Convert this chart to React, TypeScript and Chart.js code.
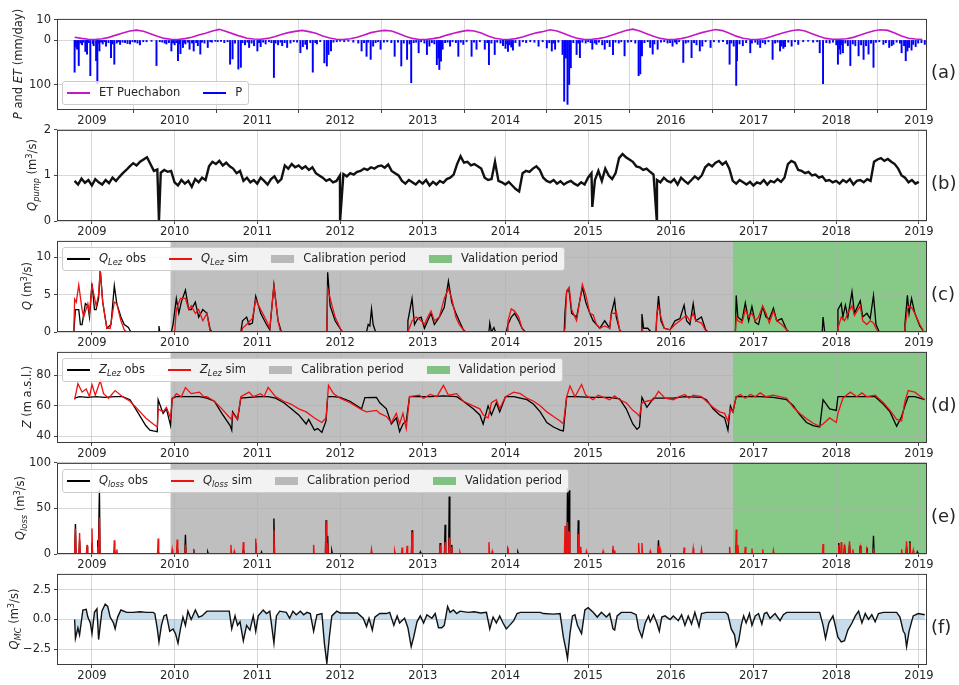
import React, { useEffect, useRef } from 'react';
import { Chart, registerables } from 'chart.js';

Chart.register(...registerables);

const FONT = '"DejaVu Sans", "Liberation Sans", sans-serif';
const TEXT = '#262626';
const GRID = 'rgba(176,176,176,0.5)';
const CAL_COLOR = 'rgba(128,128,128,0.5)';
const VAL_COLOR = 'rgba(0,140,0,0.47)';

// ---------- axes / categories ----------
const X_MIN = 2008.577;
const X_MAX = 2019.097;
const YEAR_TICKS = [2009, 2010, 2011, 2012, 2013, 2014, 2015, 2016, 2017, 2018, 2019];
const CAL_START = 2009.95;
const VAL_START = 2016.75;

// ---------- (a) ET (monthly, from mid Oct 2008) ----------
const ET_START = 2008.79;
const ET_MONTHLY = [
  1.6, 1.0, 0.6,
  0.5, 0.8, 1.5, 2.6, 3.6, 4.6, 5.0, 4.5, 3.3, 2.0, 1.0, 0.6,
  0.5, 0.9, 1.6, 2.7, 3.5, 4.6, 5.4, 4.4, 3.2, 2.1, 1.1, 0.7,
  0.6, 1.0, 1.8, 2.9, 3.8, 4.4, 4.9, 4.3, 3.5, 2.2, 1.2, 0.6,
  0.4, 0.8, 1.6, 2.6, 3.8, 4.5, 4.9, 4.6, 3.4, 2.1, 1.0, 0.5,
  0.5, 0.9, 1.5, 2.6, 3.5, 4.3, 4.9, 4.6, 3.6, 2.2, 1.1, 0.6,
  0.5, 0.9, 1.7, 2.8, 3.7, 4.4, 5.2, 4.6, 3.4, 2.0, 1.0, 0.5,
  0.6, 0.9, 1.6, 2.7, 3.8, 4.8, 5.5, 4.6, 3.3, 2.0, 1.0, 0.5,
  0.5, 0.9, 1.7, 2.8, 3.8, 4.6, 5.3, 4.8, 3.5, 2.1, 1.1, 0.6,
  0.5, 0.8, 1.8, 2.9, 3.9, 4.7, 5.2, 4.6, 3.3, 2.0, 1.0, 0.6,
  0.6, 0.8, 1.5, 2.6, 3.7, 4.7, 5.2, 4.9, 3.6, 2.2, 1.1, 0.7,
  0.5,
];
// ET axis / P axis ranges
const ET_MIN = -33.8, ET_MAX = 10.48;
const P_MIN = -48.9, P_MAX = 157.8;
const A_ET_TICKS = [10, 0];
const A_P_TICKS = [100];

// ---------- (a) P events [decimal year, mm/day] ----------
const P_EVENTS: [number, number][] = [
  [2008.79, 72], [2008.80, 15], [2008.82, 20], [2008.84, 57], [2008.86, 6], [2008.88, 10], [2008.90, 4], [2008.92, 25], [2008.94, 31], [2008.96, 5], [2008.98, 80],
  [2009.01, 7], [2009.02, 12], [2009.05, 46], [2009.065, 98], [2009.08, 6], [2009.09, 24], [2009.11, 4], [2009.13, 8], [2009.15, 3], [2009.17, 13], [2009.20, 5], [2009.23, 39], [2009.25, 8], [2009.27, 54], [2009.30, 6], [2009.32, 3], [2009.34, 9], [2009.37, 4], [2009.40, 5], [2009.43, 7], [2009.46, 8], [2009.49, 3], [2009.52, 4], [2009.55, 6], [2009.58, 10], [2009.62, 3], [2009.66, 3], [2009.72, 2], [2009.78, 57], [2009.82, 3], [2009.85, 4], [2009.88, 6], [2009.90, 8], [2009.93, 5], [2009.96, 24], [2009.98, 6],
  [2010.00, 10], [2010.02, 5], [2010.04, 46], [2010.06, 8], [2010.07, 30], [2010.10, 16], [2010.12, 5], [2010.13, 8], [2010.16, 4], [2010.18, 20], [2010.21, 6], [2010.23, 24], [2010.26, 5], [2010.28, 12], [2010.31, 31], [2010.33, 4], [2010.36, 6], [2010.40, 16], [2010.43, 3], [2010.45, 4], [2010.49, 2], [2010.52, 3], [2010.56, 2], [2010.60, 5], [2010.64, 3], [2010.67, 54], [2010.70, 42], [2010.73, 6], [2010.77, 65], [2010.80, 61], [2010.82, 5], [2010.85, 10], [2010.88, 4], [2010.90, 16], [2010.93, 6], [2010.96, 12],
  [2011.00, 24], [2011.02, 5], [2011.04, 14], [2011.07, 4], [2011.10, 8], [2011.14, 3], [2011.17, 5], [2011.20, 84], [2011.22, 6], [2011.25, 10], [2011.28, 4], [2011.30, 12], [2011.33, 5], [2011.36, 16], [2011.40, 6], [2011.44, 3], [2011.48, 4], [2011.52, 28], [2011.55, 14], [2011.58, 9], [2011.60, 20], [2011.64, 5], [2011.67, 72], [2011.70, 5], [2011.72, 8], [2011.76, 3], [2011.81, 51], [2011.84, 58], [2011.86, 32], [2011.89, 24], [2011.92, 4], [2011.96, 3],
  [2012.00, 2], [2012.05, 3], [2012.10, 2], [2012.16, 4], [2012.22, 6], [2012.26, 24], [2012.29, 5], [2012.32, 36], [2012.34, 4], [2012.37, 43], [2012.40, 13], [2012.43, 5], [2012.46, 3], [2012.49, 20], [2012.53, 4], [2012.57, 3], [2012.62, 5], [2012.66, 36], [2012.70, 4], [2012.74, 58], [2012.77, 6], [2012.81, 43], [2012.84, 8], [2012.86, 96], [2012.89, 5], [2012.92, 4], [2012.95, 28], [2012.98, 3],
  [2013.02, 6], [2013.05, 32], [2013.08, 13], [2013.11, 5], [2013.14, 8], [2013.17, 55], [2013.19, 40], [2013.20, 66], [2013.22, 47], [2013.24, 20], [2013.27, 5], [2013.30, 4], [2013.33, 13], [2013.36, 3], [2013.40, 5], [2013.43, 36], [2013.46, 4], [2013.49, 9], [2013.53, 3], [2013.59, 36], [2013.62, 4], [2013.65, 20], [2013.69, 3], [2013.75, 20], [2013.78, 5], [2013.80, 55], [2013.83, 6], [2013.87, 32], [2013.90, 4], [2013.94, 6], [2013.97, 12],
  [2014.00, 18], [2014.02, 8], [2014.03, 25], [2014.05, 10], [2014.07, 15], [2014.09, 22], [2014.12, 5], [2014.17, 13], [2014.21, 3], [2014.25, 5], [2014.30, 3], [2014.35, 4], [2014.40, 13], [2014.45, 3], [2014.50, 17], [2014.53, 5], [2014.56, 24], [2014.58, 6], [2014.60, 20], [2014.64, 4], [2014.69, 32], [2014.71, 138], [2014.73, 40], [2014.75, 145], [2014.77, 100], [2014.79, 62], [2014.82, 5], [2014.86, 32], [2014.88, 6], [2014.90, 39], [2014.93, 4], [2014.97, 6],
  [2015.00, 3], [2015.03, 5], [2015.05, 20], [2015.08, 6], [2015.10, 9], [2015.13, 4], [2015.17, 10], [2015.20, 20], [2015.23, 5], [2015.26, 14], [2015.30, 32], [2015.33, 4], [2015.37, 6], [2015.40, 3], [2015.44, 35], [2015.48, 4], [2015.52, 3], [2015.57, 6], [2015.61, 80], [2015.63, 76], [2015.65, 35], [2015.68, 5], [2015.72, 3], [2015.75, 16], [2015.78, 31], [2015.80, 8], [2015.84, 20], [2015.88, 4], [2015.92, 3], [2015.96, 6],
  [2015.99, 5], [2016.02, 13], [2016.05, 4], [2016.07, 8], [2016.10, 3], [2016.15, 50], [2016.18, 6], [2016.21, 4], [2016.25, 39], [2016.28, 5], [2016.31, 10], [2016.35, 24], [2016.38, 13], [2016.42, 3], [2016.48, 16], [2016.52, 3], [2016.58, 4], [2016.63, 3], [2016.68, 8], [2016.71, 54], [2016.73, 6], [2016.76, 13], [2016.79, 102], [2016.80, 46], [2016.83, 8], [2016.87, 12], [2016.91, 5], [2016.96, 28], [2016.98, 6],
  [2017.02, 4], [2017.05, 9], [2017.08, 16], [2017.11, 5], [2017.14, 8], [2017.18, 3], [2017.23, 43], [2017.26, 6], [2017.29, 4], [2017.32, 24], [2017.34, 13], [2017.36, 18], [2017.38, 14], [2017.42, 4], [2017.46, 13], [2017.50, 3], [2017.54, 9], [2017.60, 3], [2017.66, 2], [2017.72, 4], [2017.77, 3], [2017.80, 28], [2017.84, 98], [2017.88, 5], [2017.92, 6], [2017.96, 4],
  [2018.00, 10], [2018.02, 54], [2018.04, 20], [2018.05, 31], [2018.07, 10], [2018.08, 28], [2018.11, 6], [2018.14, 12], [2018.17, 57], [2018.20, 8], [2018.23, 12], [2018.27, 35], [2018.30, 10], [2018.33, 43], [2018.36, 12], [2018.39, 31], [2018.42, 6], [2018.45, 61], [2018.48, 4], [2018.52, 3], [2018.57, 9], [2018.60, 5], [2018.64, 16], [2018.67, 12], [2018.69, 9], [2018.73, 4], [2018.77, 6], [2018.79, 28], [2018.82, 12], [2018.84, 46], [2018.86, 24], [2018.88, 16], [2018.91, 22], [2018.93, 9], [2018.96, 14], [2018.99, 6], [2019.03, 5], [2019.07, 9],
];

// ---------- (b) Q pump (half-monthly from 2008.79) ----------
const QPUMP_START = 2008.79;
const QPUMP_STEP = 1 / 24;
const QPUMP = [
  0.88, 0.8, 0.93, 0.84, 0.9,
  0.78, 0.92, 0.85, 0.8, 0.9, 0.83, 0.95, 0.88, 0.97, 1.05, 1.12, 1.2, 1.27, 1.22, 1.3, 1.35, 1.4, 1.25, 1.1, 1.13, 1.06, 1.12, 1.08, 1.1,
  0.85, 0.78, 0.9, 0.82, 0.88, 0.75, 0.92, 0.85, 0.95, 0.9, 1.2, 1.3, 1.25, 1.32, 1.22, 1.28, 1.2, 1.15, 1.05, 1.1, 0.88, 0.95, 0.85, 0.9,
  0.82, 0.95, 0.88, 0.8, 0.92, 0.98, 0.85, 0.92, 1.22, 1.15, 1.25, 1.18, 1.22, 1.15, 1.2, 1.12, 1.18, 1.05, 1.0, 0.95, 0.88, 0.92, 0.85, 0.88,
  1.0, 1.03, 0.98, 1.05, 1.02, 1.08, 1.1, 1.15, 1.12, 1.18, 1.15, 1.2, 1.22, 1.17, 1.24, 1.1, 1.05, 1.0, 0.88, 0.82, 0.9, 0.85, 0.8, 0.88,
  0.82, 0.9, 0.78, 0.86, 0.8, 0.88, 0.84, 0.92, 0.95, 1.02, 1.25, 1.42, 1.28, 1.3, 1.22, 1.25, 1.2, 1.15, 0.95, 0.9, 0.92, 1.3, 0.88, 0.85,
  0.8, 0.86, 0.78, 0.7, 0.65, 1.05, 1.1, 1.08, 1.15, 1.2, 1.12, 0.95, 0.88, 0.85, 0.9, 0.82, 0.87, 0.8, 0.85, 0.88, 0.82, 0.78, 0.85, 0.8,
  0.95, 1.05, 0.9, 1.1, 0.88, 1.15, 1.0, 0.92, 1.05, 1.38, 1.47, 1.4, 1.35, 1.3, 1.2, 1.18, 1.12, 1.15, 1.08, 1.02, 0.9, 0.85, 0.95, 0.88,
  0.85, 0.92, 0.8, 0.95, 0.88, 0.82, 0.9, 0.98, 0.92, 1.0, 1.18, 1.25, 1.2, 1.28, 1.32, 1.24, 1.3, 1.15, 0.88, 0.82, 0.9, 0.85, 0.8, 0.86,
  0.78, 0.85, 0.82, 0.9, 0.8, 0.88, 0.85, 0.92, 0.86, 0.95, 1.25, 1.32, 1.28, 1.12, 1.1, 1.05, 1.08, 1.0, 1.02, 0.95, 0.98, 0.88, 0.9, 0.85,
  0.88, 0.82, 0.9, 0.85, 0.92, 0.8, 0.88, 0.9, 0.85, 0.92, 0.88, 1.3, 1.35, 1.38, 1.32, 1.36, 1.3, 1.25, 1.15, 1.0, 0.95, 0.85, 0.9, 0.82,
  0.86,
];
const QPUMP_DROPS: [number, number][] = [[2009.81, 0], [2012.0, 0], [2015.05, 0.31], [2015.83, 0]];

// ---------- (c) Q Lez ----------
const QLEZ_OBS: [number, number][] = [
  [2008.78, 0], [2008.80, 3], [2008.84, 3], [2008.86, 1], [2008.88, 1], [2008.92, 3.8], [2008.95, 3.5], [2008.97, 2], [2009.0, 6.5], [2009.03, 3], [2009.05, 3], [2009.08, 4.5], [2009.10, 8.3], [2009.13, 4], [2009.18, 0.5], [2009.23, 1], [2009.27, 6.2], [2009.30, 3.8], [2009.35, 2], [2009.39, 1], [2009.44, 0.6], [2009.47, 0],
  [2009.80, 0], [2009.81, 0.8], [2009.82, 0], [2009.96, 0], [2009.98, 1], [2010.02, 4.5], [2010.05, 2.5], [2010.08, 4], [2010.13, 5.6], [2010.17, 3], [2010.20, 3], [2010.25, 4], [2010.29, 2], [2010.34, 3], [2010.39, 2.5], [2010.43, 0.3], [2010.45, 0],
  [2010.80, 0], [2010.82, 1.5], [2010.87, 2], [2010.90, 1], [2010.94, 1.2], [2010.98, 4.8], [2011.04, 2.5], [2011.11, 1], [2011.15, 0.3], [2011.20, 6.3], [2011.25, 1.5], [2011.29, 0],
  [2011.84, 0], [2011.85, 8], [2011.88, 3.5], [2011.94, 1.5], [2012.01, 0.3], [2012.03, 0], [2012.32, 0], [2012.34, 1], [2012.36, 0.8], [2012.38, 3.1], [2012.40, 1], [2012.43, 0],
  [2012.81, 0], [2012.82, 1.5], [2012.87, 4.5], [2012.90, 1], [2012.94, 1.8], [2012.98, 2], [2013.02, 0.5], [2013.06, 1.5], [2013.10, 2.5], [2013.14, 1], [2013.20, 2], [2013.26, 3.3], [2013.31, 6.8], [2013.35, 4], [2013.40, 2.5], [2013.44, 1.5], [2013.49, 0.3], [2013.52, 0],
  [2013.80, 0], [2013.81, 1.2], [2013.83, 0], [2013.86, 0.6], [2013.88, 0], [2014.01, 0], [2014.03, 1], [2014.07, 2], [2014.11, 2.5], [2014.16, 1.5], [2014.20, 0.5], [2014.24, 0],
  [2014.71, 0], [2014.72, 2.7], [2014.74, 5.5], [2014.77, 5.5], [2014.80, 2.5], [2014.86, 2], [2014.93, 6], [2014.97, 4], [2015.02, 2.5], [2015.06, 1.5], [2015.10, 1], [2015.14, 0.5], [2015.20, 1.5], [2015.26, 0.5], [2015.28, 2.5], [2015.32, 4.3], [2015.34, 2], [2015.38, 0.3], [2015.40, 0],
  [2015.64, 0], [2015.65, 2.4], [2015.67, 0.5], [2015.72, 0.5], [2015.76, 0], [2015.82, 0], [2015.83, 2], [2015.85, 4.8], [2015.88, 1.5], [2015.92, 0.5], [2015.99, 0.3], [2016.05, 1.5], [2016.11, 1.8], [2016.16, 3.6], [2016.19, 1.5], [2016.23, 1], [2016.27, 3.8], [2016.30, 1.5], [2016.37, 2], [2016.42, 0.3], [2016.45, 0],
  [2016.78, 0], [2016.79, 4.9], [2016.81, 2], [2016.86, 1.5], [2016.90, 3.9], [2016.94, 1.5], [2016.98, 3.4], [2017.02, 1.3], [2017.06, 1], [2017.11, 3.4], [2017.15, 2], [2017.19, 1.7], [2017.24, 3.2], [2017.28, 1.5], [2017.34, 1.8], [2017.40, 0.3], [2017.43, 0],
  [2017.83, 0], [2017.84, 2], [2017.86, 0], [2018.01, 0], [2018.02, 3], [2018.06, 3.8], [2018.08, 2], [2018.11, 3.6], [2018.14, 2], [2018.19, 5.4], [2018.22, 2.5], [2018.29, 4.2], [2018.32, 2], [2018.37, 2.5], [2018.41, 1.8], [2018.45, 4.9], [2018.48, 1], [2018.52, 0],
  [2018.82, 0], [2018.83, 1], [2018.86, 4.9], [2018.88, 2.5], [2018.91, 4.5], [2018.95, 2.5], [2019.01, 0.8], [2019.05, 0.2],
];
const QLEZ_SIM: [number, number][] = [
  [2008.78, 0], [2008.79, 4.4], [2008.81, 4], [2008.84, 6.3], [2008.88, 3], [2008.90, 2], [2008.95, 3.8], [2008.97, 2.5], [2009.0, 6.3], [2009.05, 3.5], [2009.08, 5], [2009.10, 8.3], [2009.13, 4], [2009.18, 0.5], [2009.22, 0.5], [2009.27, 4], [2009.30, 3.8], [2009.35, 1.5], [2009.39, 0.3], [2009.42, 0],
  [2010.0, 0], [2010.02, 3], [2010.07, 4.5], [2010.13, 4.5], [2010.17, 3], [2010.20, 3.5], [2010.25, 2.5], [2010.29, 3], [2010.34, 1.5], [2010.39, 2.5], [2010.43, 0],
  [2010.81, 0], [2010.82, 0.5], [2010.87, 1], [2010.94, 1.8], [2010.98, 4.3], [2011.04, 3], [2011.11, 1.5], [2011.15, 0.5], [2011.20, 6.2], [2011.25, 1.5], [2011.28, 0],
  [2011.84, 0], [2011.85, 5.8], [2011.88, 4.5], [2011.94, 2], [2012.01, 0.3], [2012.03, 0],
  [2012.82, 0], [2012.83, 0.3], [2012.87, 1.5], [2012.92, 2], [2012.98, 1.5], [2013.02, 1], [2013.06, 2], [2013.10, 2.8], [2013.14, 1.5], [2013.20, 2], [2013.26, 4.5], [2013.31, 5.8], [2013.35, 4.5], [2013.40, 2], [2013.44, 1], [2013.49, 0.3], [2013.51, 0],
  [2014.02, 0], [2014.03, 1.5], [2014.07, 3.1], [2014.11, 2.8], [2014.16, 2], [2014.20, 0.5], [2014.23, 0],
  [2014.71, 0], [2014.72, 0.5], [2014.74, 5.5], [2014.77, 6], [2014.80, 3], [2014.86, 1.5], [2014.93, 6.4], [2014.97, 5], [2015.02, 2.5], [2015.06, 2.3], [2015.10, 1], [2015.14, 0.5], [2015.20, 0.8], [2015.26, 0.5], [2015.28, 2.5], [2015.32, 2.5], [2015.34, 2.8], [2015.38, 0.3], [2015.40, 0],
  [2015.64, 0], [2015.65, 0.3], [2015.67, 0], [2015.82, 0], [2015.83, 2.5], [2015.85, 3.4], [2015.88, 2], [2015.92, 0.5], [2015.99, 0.3], [2016.05, 1], [2016.11, 1.5], [2016.16, 2], [2016.19, 2.2], [2016.23, 1.5], [2016.27, 2.5], [2016.30, 1.5], [2016.37, 1.2], [2016.42, 0.2], [2016.45, 0],
  [2016.78, 0], [2016.79, 2], [2016.81, 1.5], [2016.86, 1.2], [2016.90, 3], [2016.94, 2], [2016.98, 2.5], [2017.02, 1.5], [2017.06, 2], [2017.11, 3.5], [2017.15, 2.5], [2017.19, 1.2], [2017.24, 2.8], [2017.28, 1.5], [2017.34, 1], [2017.40, 0.3], [2017.42, 0],
  [2018.01, 0], [2018.02, 0.5], [2018.06, 2], [2018.10, 1.5], [2018.14, 2.5], [2018.19, 3.5], [2018.22, 2.2], [2018.29, 3.5], [2018.32, 1.5], [2018.37, 1], [2018.41, 1.5], [2018.45, 1.2], [2018.48, 0.5], [2018.51, 0],
  [2018.82, 0], [2018.83, 0.5], [2018.86, 3], [2018.88, 3.5], [2018.91, 3.3], [2018.95, 2.5], [2019.01, 1], [2019.05, 0.2],
];

// ---------- (d) Z Lez ----------
const ZLEZ_OBS: [number, number][] = [
  [2008.79, 65], [2008.85, 66], [2008.95, 65.5], [2009.05, 66], [2009.15, 65.5], [2009.28, 66], [2009.37, 66], [2009.46, 64], [2009.55, 56], [2009.65, 47], [2009.70, 44], [2009.74, 43.5], [2009.79, 43], [2009.80, 64], [2009.86, 55], [2009.90, 58], [2009.95, 47], [2009.97, 65],
  [2010.02, 66], [2010.13, 66], [2010.30, 66], [2010.39, 65], [2010.48, 63], [2010.57, 55], [2010.67, 47], [2010.69, 44], [2010.70, 56], [2010.76, 51], [2010.80, 65], [2010.90, 65.5],
  [2011.04, 66], [2011.13, 66], [2011.22, 65], [2011.32, 62], [2011.41, 58], [2011.50, 54], [2011.59, 48], [2011.62, 51], [2011.69, 44], [2011.73, 45], [2011.78, 42.5], [2011.83, 50], [2011.85, 66], [2011.92, 66],
  [2012.0, 65.5], [2012.12, 63], [2012.26, 58], [2012.30, 65.4], [2012.44, 65.5], [2012.48, 62], [2012.56, 58], [2012.62, 48], [2012.68, 52], [2012.72, 43], [2012.76, 48], [2012.80, 50], [2012.84, 66], [2012.96, 66],
  [2013.09, 66], [2013.25, 66.5], [2013.41, 66], [2013.49, 63], [2013.61, 58], [2013.69, 54], [2013.73, 48], [2013.79, 60], [2013.83, 54], [2013.89, 62], [2013.93, 56],
  [2014.0, 66], [2014.10, 66], [2014.26, 64], [2014.34, 61], [2014.42, 56], [2014.50, 49], [2014.58, 46], [2014.66, 44], [2014.70, 43.5], [2014.74, 66], [2014.84, 66],
  [2015.06, 65.5], [2015.26, 65.5], [2015.38, 64.5], [2015.46, 58], [2015.54, 48], [2015.59, 44.5], [2015.62, 46], [2015.65, 65.5], [2015.71, 59], [2015.79, 65], [2015.93, 65],
  [2016.03, 65], [2016.17, 66], [2016.37, 65.5], [2016.43, 64], [2016.51, 58], [2016.59, 54], [2016.65, 52], [2016.69, 44], [2016.72, 60], [2016.75, 56], [2016.79, 66], [2016.96, 66],
  [2017.08, 66], [2017.24, 65.5], [2017.40, 64], [2017.48, 60], [2017.56, 54], [2017.64, 49], [2017.72, 47], [2017.80, 46], [2017.84, 64], [2017.92, 58],
  [2018.0, 57], [2018.02, 66], [2018.17, 66], [2018.37, 66], [2018.47, 66], [2018.57, 61], [2018.65, 56], [2018.73, 46.5], [2018.79, 53], [2018.83, 60], [2018.87, 66], [2018.95, 66], [2019.07, 64],
];
const ZLEZ_SIM: [number, number][] = [
  [2008.79, 64], [2008.83, 74.5], [2008.88, 69], [2008.93, 71], [2008.97, 66], [2009.0, 74], [2009.04, 67], [2009.10, 76.5], [2009.14, 68], [2009.20, 65], [2009.28, 70], [2009.37, 66], [2009.46, 63], [2009.55, 58], [2009.65, 52], [2009.74, 48], [2009.79, 46], [2009.80, 58], [2009.86, 56], [2009.90, 59], [2009.95, 52], [2009.97, 64],
  [2010.02, 68], [2010.08, 66], [2010.13, 72], [2010.20, 68], [2010.30, 69], [2010.35, 66], [2010.39, 66], [2010.48, 63], [2010.57, 58], [2010.67, 52], [2010.69, 51], [2010.70, 55], [2010.76, 51], [2010.80, 66], [2010.90, 69], [2010.95, 66],
  [2011.04, 68], [2011.08, 66], [2011.13, 72], [2011.22, 66], [2011.32, 63], [2011.41, 61], [2011.50, 58], [2011.59, 56], [2011.69, 52], [2011.78, 49], [2011.83, 52], [2011.86, 73.5], [2011.92, 68],
  [2012.0, 65], [2012.12, 62], [2012.26, 57.5], [2012.32, 56], [2012.44, 57], [2012.48, 55], [2012.56, 53], [2012.62, 49], [2012.68, 55], [2012.72, 48], [2012.76, 55], [2012.80, 45], [2012.84, 66], [2012.96, 67],
  [2013.01, 65], [2013.09, 67.5], [2013.17, 66], [2013.25, 73.5], [2013.31, 67], [2013.41, 68], [2013.49, 63], [2013.61, 60], [2013.69, 58], [2013.73, 54], [2013.79, 52], [2013.83, 62], [2013.89, 64], [2013.93, 58],
  [2014.0, 66], [2014.10, 69], [2014.18, 68], [2014.26, 65], [2014.34, 63], [2014.42, 60], [2014.50, 56], [2014.58, 53], [2014.66, 50], [2014.70, 48], [2014.74, 66], [2014.78, 73], [2014.84, 66], [2014.92, 74], [2014.97, 67],
  [2015.06, 64], [2015.12, 67], [2015.26, 64], [2015.32, 66.5], [2015.38, 64], [2015.46, 62], [2015.54, 57], [2015.59, 55], [2015.62, 53], [2015.65, 62], [2015.71, 63], [2015.79, 64], [2015.85, 69.5], [2015.93, 65],
  [2016.03, 64], [2016.10, 66], [2016.17, 67.5], [2016.22, 65], [2016.27, 67], [2016.37, 66], [2016.43, 63], [2016.51, 59], [2016.59, 56], [2016.65, 55], [2016.69, 50], [2016.72, 58], [2016.75, 56], [2016.79, 66], [2016.84, 67.5], [2016.90, 65], [2016.96, 67.5],
  [2017.02, 66], [2017.08, 68.5], [2017.15, 66], [2017.24, 67], [2017.40, 65], [2017.48, 59], [2017.56, 55], [2017.64, 51.5], [2017.72, 48.5], [2017.80, 46.5], [2017.84, 48], [2017.92, 52],
  [2018.0, 49], [2018.02, 55], [2018.08, 65], [2018.17, 69], [2018.25, 66], [2018.31, 68.5], [2018.37, 66], [2018.47, 67], [2018.57, 62], [2018.65, 57], [2018.73, 51], [2018.79, 50], [2018.83, 63], [2018.87, 70], [2018.95, 69], [2019.07, 64],
];

// ---------- (e) Q loss events [decimal year, m3/s] ----------
const QLOSS_START = 2008.79;
const QLOSS_END = 2019.03;
const QLOSS_OBS: [number, number][] = [
  [2008.80, 33], [2008.85, 15], [2008.94, 8], [2009.0, 12], [2009.07, 15], [2009.09, 70], [2009.27, 3], [2009.80, 2], [2010.03, 5], [2010.13, 21], [2010.23, 5], [2010.40, 2], [2010.83, 4], [2010.98, 12], [2011.05, 2], [2011.20, 39], [2011.83, 37], [2011.85, 20], [2011.90, 3], [2012.38, 1], [2012.87, 26], [2012.97, 2], [2013.21, 12], [2013.27, 32], [2013.32, 63], [2013.35, 10], [2014.03, 3], [2014.15, 2], [2014.75, 72], [2014.77, 70], [2014.88, 37], [2015.30, 2], [2015.85, 15], [2016.79, 10], [2018.03, 12], [2018.10, 10], [2018.16, 10], [2018.29, 9], [2018.37, 7], [2018.45, 20], [2018.85, 8], [2018.89, 14], [2018.98, 2],
];
const QLOSS_SIM: [number, number][] = [
  [2008.80, 28], [2008.85, 23], [2008.94, 10], [2009.0, 28], [2009.07, 8], [2009.09, 40], [2009.27, 15], [2009.30, 5], [2009.80, 17], [2009.97, 5], [2010.03, 16], [2010.13, 10], [2010.23, 2], [2010.68, 10], [2010.72, 3], [2010.83, 13], [2010.98, 17], [2011.20, 26], [2011.68, 10], [2011.83, 36], [2011.85, 12], [2012.38, 5], [2012.66, 3], [2012.75, 7], [2012.81, 9], [2012.87, 24], [2013.21, 10], [2013.27, 13], [2013.32, 18], [2013.35, 8], [2013.45, 2], [2013.80, 13], [2013.84, 3], [2014.03, 7], [2014.72, 31], [2014.75, 35], [2014.77, 25], [2014.88, 22], [2014.91, 8], [2014.98, 3], [2015.18, 3], [2015.30, 9], [2015.32, 4], [2015.61, 12], [2015.65, 12], [2015.75, 3], [2015.85, 9], [2015.87, 5], [2016.16, 7], [2016.27, 6], [2016.37, 5], [2016.71, 8], [2016.79, 27], [2016.81, 10], [2016.90, 8], [2016.98, 6], [2017.11, 5], [2017.24, 4], [2017.84, 11], [2018.03, 10], [2018.06, 13], [2018.10, 6], [2018.16, 14], [2018.20, 5], [2018.29, 6], [2018.37, 3], [2018.45, 4], [2018.79, 5], [2018.85, 14], [2018.89, 12], [2018.93, 4],
];

// ---------- (f) Q MC ----------
const QMC: [number, number][] = [
  [2008.79, 0], [2008.80, -1.6], [2008.83, -0.7], [2008.85, -1.3], [2008.89, 0.8], [2008.93, 0.85], [2008.95, 0.2], [2008.98, -0.3], [2009.0, -1.2], [2009.03, 0.6], [2009.06, 0.9], [2009.08, -1.7], [2009.12, 0.7], [2009.16, 1.3], [2009.19, 1.1], [2009.22, 0.2], [2009.26, -0.3], [2009.28, -0.8], [2009.31, 0.2], [2009.35, 0.8], [2009.42, 0.6], [2009.50, 0.6], [2009.58, 0.65], [2009.66, 0.6], [2009.74, 0.6], [2009.76, 0.5], [2009.79, -0.8], [2009.81, -1.9], [2009.84, -0.5], [2009.87, 0.3], [2009.90, 0.4], [2009.94, -1.0], [2009.98, -0.8],
  [2010.01, -1.2], [2010.04, -2.0], [2010.07, -0.8], [2010.10, 0.2], [2010.13, -0.5], [2010.16, 0.7], [2010.20, 0], [2010.25, 0.8], [2010.29, 0.2], [2010.33, 0.3], [2010.39, 0.7], [2010.50, 0.7], [2010.66, 0.7], [2010.69, -0.8], [2010.73, 0.3], [2010.76, -0.5], [2010.79, -0.2], [2010.83, -1.8], [2010.87, -0.5], [2010.91, -0.9], [2010.95, 0.3], [2010.98, -1.0],
  [2011.01, 0.3], [2011.07, 0.8], [2011.11, 0.5], [2011.15, 0.7], [2011.20, -2.0], [2011.23, 0.3], [2011.27, 0.7], [2011.35, 0.6], [2011.39, 0.1], [2011.43, 0.7], [2011.47, 0.4], [2011.52, 0.7], [2011.56, 0.4], [2011.60, 0.6], [2011.64, 0.5], [2011.68, -1.0], [2011.72, 0.4], [2011.78, 0.5], [2011.81, -2.0], [2011.84, -3.7], [2011.87, -1.5], [2011.90, 0.3], [2011.96, 0.7],
  [2012.0, 0.55], [2012.21, 0.55], [2012.28, 0.1], [2012.32, -0.6], [2012.35, 0.1], [2012.39, -0.9], [2012.42, 0.2], [2012.48, 0.5], [2012.56, 0.5], [2012.60, 0.6], [2012.65, -0.5], [2012.69, 0.3], [2012.72, -0.3], [2012.78, 0.1], [2012.82, -0.7], [2012.86, -2.3], [2012.89, -1.5], [2012.93, -0.2], [2012.97, 0.3],
  [2013.01, -0.3], [2013.05, 0.4], [2013.11, 0.1], [2013.15, 0.5], [2013.19, -0.7], [2013.23, -0.7], [2013.26, -0.5], [2013.30, 1.1], [2013.33, 0.6], [2013.37, 0.8], [2013.41, 0.5], [2013.45, 0.7], [2013.55, 0.6], [2013.62, 0.65], [2013.70, 0.55], [2013.77, 0.6], [2013.81, -0.8], [2013.85, 0.2], [2013.89, -0.3], [2013.93, 0.3], [2013.97, -0.3],
  [2014.01, -0.8], [2014.05, -0.5], [2014.10, -0.1], [2014.14, 0.5], [2014.18, 0.6], [2014.42, 0.6], [2014.46, 0.5], [2014.58, 0.45], [2014.66, 0.5], [2014.70, -1.5], [2014.73, -2.5], [2014.75, -3.3], [2014.78, -1.2], [2014.81, 0.3], [2014.84, 0.4], [2014.87, -0.5], [2014.92, -1.2], [2014.96, 0.8],
  [2015.0, 1.0], [2015.06, 0.6], [2015.11, 0.2], [2015.16, 0.6], [2015.22, 0.2], [2015.26, 0.5], [2015.30, -0.8], [2015.32, -0.9], [2015.35, 0.3], [2015.40, 0.6], [2015.52, 0.6], [2015.58, 0.4], [2015.61, -0.8], [2015.65, -1.5], [2015.69, -0.3], [2015.73, 0.3], [2015.75, -0.2], [2015.79, 0.4], [2015.83, -0.3], [2015.86, -1.0], [2015.89, 0.2], [2015.93, 0.3], [2015.99, 0.0],
  [2016.03, 0.3], [2016.09, -0.1], [2016.13, 0.4], [2016.17, -0.5], [2016.21, 0.3], [2016.25, -0.4], [2016.29, 0.6], [2016.34, -0.6], [2016.37, 0.5], [2016.43, 0.6], [2016.66, 0.6], [2016.69, 0.4], [2016.73, -0.8], [2016.77, -1.3], [2016.79, -2.3], [2016.82, -1.8], [2016.85, -0.5], [2016.88, 0.3], [2016.91, -0.3], [2016.95, 0.5], [2016.98, -0.5],
  [2017.02, 0.3], [2017.06, 0.5], [2017.10, -0.4], [2017.13, 0.5], [2017.16, 0.6], [2017.20, 0.1], [2017.26, 0.5], [2017.32, -0.1], [2017.36, 0.4], [2017.40, 0.6], [2017.80, 0.6], [2017.84, -0.5], [2017.87, -1.6], [2017.91, -0.3], [2017.96, 0.3],
  [2018.02, -1.5], [2018.06, -1.9], [2018.10, -1.8], [2018.14, -0.9], [2018.19, -0.3], [2018.23, 0.3], [2018.27, 0.7], [2018.31, -0.3], [2018.35, 0.5], [2018.39, 0.0], [2018.43, 0.4], [2018.47, -0.2], [2018.51, 0.5], [2018.57, 0.6], [2018.73, 0.6], [2018.77, 0.2], [2018.81, -1.0], [2018.83, -1.2], [2018.85, -2.3], [2018.88, -1.0], [2018.93, 0.3], [2018.99, 0.5], [2019.07, 0.4],
];

// ---------- y tick definitions ----------
const B_TICKS = [0, 1, 2];
const C_TICKS = [0, 5, 10];
const D_TICKS = [40, 60, 80];
const E_TICKS = [0, 50, 100];
const F_TICKS = [-2.5, 0, 2.5];

// ---------- layout ----------
const PANEL_TOPS = [17, 128, 239, 350, 461, 572];
const PANEL_H = 93;
const PAD_TOP = 8;
const X_AXIS_H = 22;
const CANVAS_W = 935;
const PLOT_LEFT = 57;

const ET_COLOR = '#c418c4';
const P_COLOR = '#0000ff';
const OBS_COLOR = '#000000';
const SIM_COLOR = '#ee1111';

const tupleToXY = (arr: [number, number][]) => arr.map(([x, y]) => ({ x, y }));
const spikes = (events: [number, number][], t0: number, t1: number) => {
  const pts: { x: number; y: number }[] = [{ x: t0, y: 0 }];
  [...events].sort((a, b) => a[0] - b[0]).forEach(([t, v]) => {
    pts.push({ x: t - 0.007, y: 0 }, { x: t, y: v }, { x: t + 0.007, y: 0 });
  });
  pts.push({ x: t1, y: 0 });
  return pts;
};

const tickFont = { family: FONT, size: 11.5 };

const framePlugin = {
  id: 'frame',
  afterDraw(chart: any) {
    const { ctx, chartArea: a } = chart;
    ctx.save();
    ctx.strokeStyle = '#3c3c3c';
    ctx.lineWidth = 1;
    ctx.strokeRect(a.left + 0.5, a.top + 0.5, a.right - a.left - 1, a.bottom - a.top - 1);
    ctx.restore();
  },
};

const shadePlugin = {
  id: 'shade',
  beforeDraw(chart: any) {
    const { ctx, chartArea: a, scales } = chart;
    const x = scales.x;
    const x0 = x.getPixelForValue(CAL_START);
    const x1 = x.getPixelForValue(VAL_START);
    ctx.save();
    ctx.fillStyle = CAL_COLOR;
    ctx.fillRect(x0, a.top, x1 - x0, a.bottom - a.top);
    ctx.fillStyle = VAL_COLOR;
    ctx.fillRect(x1, a.top, a.right - x1, a.bottom - a.top);
    ctx.restore();
  },
};

const xScale = () => ({
  type: 'linear',
  min: X_MIN,
  max: X_MAX,
  offset: false,
  afterBuildTicks: (s: any) => {
    s.ticks = YEAR_TICKS.map((v) => ({ value: v }));
  },
  afterFit: (s: any) => {
    s.height = X_AXIS_H;
  },
  ticks: {
    autoSkip: false,
    maxRotation: 0,
    padding: 1,
    font: tickFont,
    color: TEXT,
    callback: (v: any) => String(v),
  },
  grid: { color: GRID, tickColor: '#444', tickLength: 3, lineWidth: 1 },
  border: { display: false },
});

const yScale = (min: number, max: number, ticks: number[], labels: string[], extra: any = {}) => ({
  type: 'linear',
  position: 'left',
  min,
  max,
  afterBuildTicks: (s: any) => {
    s.ticks = ticks.map((v) => ({ value: v }));
  },
  afterFit: (s: any) => {
    s.width = PLOT_LEFT;
  },
  ticks: {
    autoSkip: false,
    padding: 3,
    font: tickFont,
    color: TEXT,
    callback: (_v: any, i: number) => labels[i],
  },
  grid: { color: GRID, tickColor: '#444', tickLength: 3, lineWidth: 1 },
  border: { display: false },
  ...extra,
});

const lineDs = (data: any[], color: string, width: number, extra: any = {}) => ({
  type: 'line',
  data,
  borderColor: color,
  borderWidth: width,
  pointRadius: 0,
  tension: 0,
  fill: false,
  ...extra,
});

const makeChart = (canvas: HTMLCanvasElement, datasets: any[], scales: any, plugins: any[] = []) =>
  new Chart(canvas as any, {
    type: 'line',
    data: { datasets },
    options: {
      responsive: false,
      animation: false,
      devicePixelRatio: 1,
      layout: { padding: { top: PAD_TOP, right: CANVAS_W - 927, left: 0, bottom: 0 } },
      plugins: { legend: { display: false }, tooltip: { enabled: false } },
      scales,
    } as any,
    plugins: [...plugins, framePlugin],
  } as any);

const Sub = ({ children }: any) => (
  <span style={{ fontSize: '0.72em', fontStyle: 'italic', position: 'relative', top: '0.32em' }}>{children}</span>
);
const Sup = ({ children }: any) => (
  <span style={{ fontSize: '0.72em', position: 'relative', top: '-0.45em' }}>{children}</span>
);

const YTitle = ({ cx, cy, children }: any) => (
  <div
    style={{
      position: 'absolute',
      left: cx,
      top: cy,
      transform: 'translate(-50%, -50%) rotate(-90deg)',
      whiteSpace: 'nowrap',
      fontSize: 11.5,
      lineHeight: 1,
      color: TEXT,
    }}
  >
    {children}
  </div>
);

type LegendItem = { kind: 'line' | 'patch'; color: string; label: any };
const Legend = ({ left, top, items }: { left: number; top: number; items: LegendItem[] }) => (
  <div
    style={{
      position: 'absolute',
      left,
      top,
      height: 24,
      boxSizing: 'border-box',
      display: 'flex',
      alignItems: 'center',
      padding: '0 6px 0 4px',
      background: 'rgba(255,255,255,0.8)',
      border: '1px solid #cccccc',
      borderRadius: 3,
      fontSize: 11.5,
      whiteSpace: 'nowrap',
      color: TEXT,
      lineHeight: 1,
    }}
  >
    {items.map((it, i) => (
      <div key={i} style={{ display: 'flex', alignItems: 'center', marginRight: i === items.length - 1 ? 0 : 23 }}>
        <div
          style={{
            width: 23,
            minWidth: 23,
            height: it.kind === 'line' ? 2 : 8,
            background: it.color,
            marginRight: 9,
            flexShrink: 0,
          }}
        />
        <span>{it.label}</span>
      </div>
    ))}
  </div>
);

const PanelLabel = ({ cy, text }: any) => (
  <div style={{ position: 'absolute', left: 931, top: cy, transform: 'translateY(-50%)', fontSize: 18, lineHeight: 1, color: TEXT }}>
    {text}
  </div>
);

export default function App() {
  const refs = useRef<(HTMLCanvasElement | null)[]>([]);

  useEffect(() => {
    const charts: Chart[] = [];
    const c = refs.current;

    // (a)
    const etData = ET_MONTHLY.map((v, i) => ({ x: ET_START + i / 12, y: v }));
    const pOfEt = (e: number) => P_MIN + ((ET_MAX - e) / (ET_MAX - ET_MIN)) * (P_MAX - P_MIN);
    const aTickVals = [...A_ET_TICKS.map(pOfEt), ...A_P_TICKS];
    const aTickLabels = [...A_ET_TICKS.map(String), ...A_P_TICKS.map(String)];
    charts.push(
      makeChart(
        c[0]!,
        [
          lineDs(etData, ET_COLOR, 1.6, { yAxisID: 'yET', order: 0 }),
          {
            type: 'bar',
            data: tupleToXY(P_EVENTS),
            backgroundColor: P_COLOR,
            borderWidth: 0,
            barThickness: 1.3,
            yAxisID: 'yP',
            order: 1,
          },
        ],
        {
          x: xScale(),
          yP: yScale(P_MIN, P_MAX, aTickVals, aTickLabels, { reverse: true }),
          yET: { type: 'linear', display: false, min: ET_MIN, max: ET_MAX },
        }
      )
    );

    // (b)
    const qp = QPUMP.map((v, i) => ({ x: QPUMP_START + i * QPUMP_STEP, y: v }))
      .concat(tupleToXY(QPUMP_DROPS))
      .sort((p, q) => p.x - q.x);
    charts.push(
      makeChart(c[1]!, [lineDs(qp, '#111111', 2.4, { yAxisID: 'y' })], {
        x: xScale(),
        y: yScale(0, 2, B_TICKS, B_TICKS.map(String)),
      })
    );

    // (c)
    charts.push(
      makeChart(
        c[2]!,
        [
          lineDs(tupleToXY(QLEZ_OBS), OBS_COLOR, 1.3, { yAxisID: 'y', order: 1 }),
          lineDs(tupleToXY(QLEZ_SIM), SIM_COLOR, 1.3, { yAxisID: 'y', order: 0 }),
        ],
        { x: xScale(), y: yScale(0, 12.2, C_TICKS, C_TICKS.map(String)) },
        [shadePlugin]
      )
    );

    // (d)
    charts.push(
      makeChart(
        c[3]!,
        [
          lineDs(tupleToXY(ZLEZ_OBS), OBS_COLOR, 1.3, { yAxisID: 'y', order: 1 }),
          lineDs(tupleToXY(ZLEZ_SIM), SIM_COLOR, 1.3, { yAxisID: 'y', order: 0 }),
        ],
        { x: xScale(), y: yScale(35.5, 95.5, D_TICKS, D_TICKS.map(String)) },
        [shadePlugin]
      )
    );

    // (e)
    charts.push(
      makeChart(
        c[4]!,
        [
          lineDs(spikes(QLOSS_OBS, QLOSS_START, QLOSS_END), OBS_COLOR, 1.4, { yAxisID: 'y', order: 1 }),
          lineDs(spikes(QLOSS_SIM, QLOSS_START, QLOSS_END), SIM_COLOR, 1.4, { yAxisID: 'y', order: 0 }),
        ],
        { x: xScale(), y: yScale(0, 100, E_TICKS, E_TICKS.map(String)) },
        [shadePlugin]
      )
    );

    // (f)
    charts.push(
      makeChart(
        c[5]!,
        [
          lineDs(tupleToXY(QMC), '#111111', 1.4, {
            yAxisID: 'y',
            fill: 'origin',
            backgroundColor: 'rgba(31,119,180,0.25)',
          }),
        ],
        {
          x: xScale(),
          y: yScale(-3.85, 3.85, F_TICKS, F_TICKS.map((v) => v.toFixed(1).replace('-', '\u2212'))),
        }
      )
    );

    return () => charts.forEach((ch) => ch.destroy());
  }, []);

  const T = PANEL_TOPS;
  const mid = (i: number) => T[i] + PANEL_H / 2;
  const calItem: LegendItem = { kind: 'patch', color: CAL_COLOR, label: 'Calibration period' };
  const valItem: LegendItem = { kind: 'patch', color: VAL_COLOR, label: 'Validation period' };

  return (
    <div
      style={{
        position: 'absolute',
        left: 0,
        top: 0,
        width: 959,
        height: 685,
        background: '#ffffff',
        fontFamily: FONT,
        color: TEXT,
        overflow: 'hidden',
      }}
    >
      {T.map((top, i) => (
        <canvas
          key={i}
          ref={(el) => {
            refs.current[i] = el;
          }}
          width={CANVAS_W}
          height={PANEL_H + PAD_TOP + X_AXIS_H}
          style={{ position: 'absolute', left: 0, top: top - PAD_TOP }}
        />
      ))}

      <YTitle cx={19} cy={mid(0)}>
        <i>P</i> and <i>ET</i> (mm/day)
      </YTitle>
      <YTitle cx={33} cy={mid(1)}>
        <i>Q</i>
        <Sub>pump</Sub> (m<Sup>3</Sup>/s)
      </YTitle>
      <YTitle cx={28} cy={mid(2)}>
        <i>Q</i> (m<Sup>3</Sup>/s)
      </YTitle>
      <YTitle cx={28} cy={mid(3)}>
        <i>Z</i> (m a.s.l.)
      </YTitle>
      <YTitle cx={21} cy={mid(4)}>
        <i>Q</i>
        <Sub>loss</Sub> (m<Sup>3</Sup>/s)
      </YTitle>
      <YTitle cx={15} cy={mid(5)}>
        <i>Q</i>
        <Sub>MC</Sub> (m<Sup>3</Sup>/s)
      </YTitle>

      <Legend
        left={62}
        top={81}
        items={[
          { kind: 'line', color: ET_COLOR, label: 'ET Puechabon' },
          { kind: 'line', color: P_COLOR, label: 'P' },
        ]}
      />
      <Legend
        left={62}
        top={T[2] + 8}
        items={[
          { kind: 'line', color: OBS_COLOR, label: <><i>Q</i><Sub>Lez</Sub> obs</> },
          { kind: 'line', color: SIM_COLOR, label: <><i>Q</i><Sub>Lez</Sub> sim</> },
          calItem,
          valItem,
        ]}
      />
      <Legend
        left={62}
        top={T[3] + 8}
        items={[
          { kind: 'line', color: OBS_COLOR, label: <><i>Z</i><Sub>Lez</Sub> obs</> },
          { kind: 'line', color: SIM_COLOR, label: <><i>Z</i><Sub>Lez</Sub> sim</> },
          calItem,
          valItem,
        ]}
      />
      <Legend
        left={62}
        top={T[4] + 8}
        items={[
          { kind: 'line', color: OBS_COLOR, label: <><i>Q</i><Sub>loss</Sub> obs</> },
          { kind: 'line', color: SIM_COLOR, label: <><i>Q</i><Sub>loss</Sub> sim</> },
          calItem,
          valItem,
        ]}
      />

      {['(a)', '(b)', '(c)', '(d)', '(e)', '(f)'].map((s, i) => (
        <PanelLabel key={s} cy={mid(i) + 8} text={s} />
      ))}
    </div>
  );
}
